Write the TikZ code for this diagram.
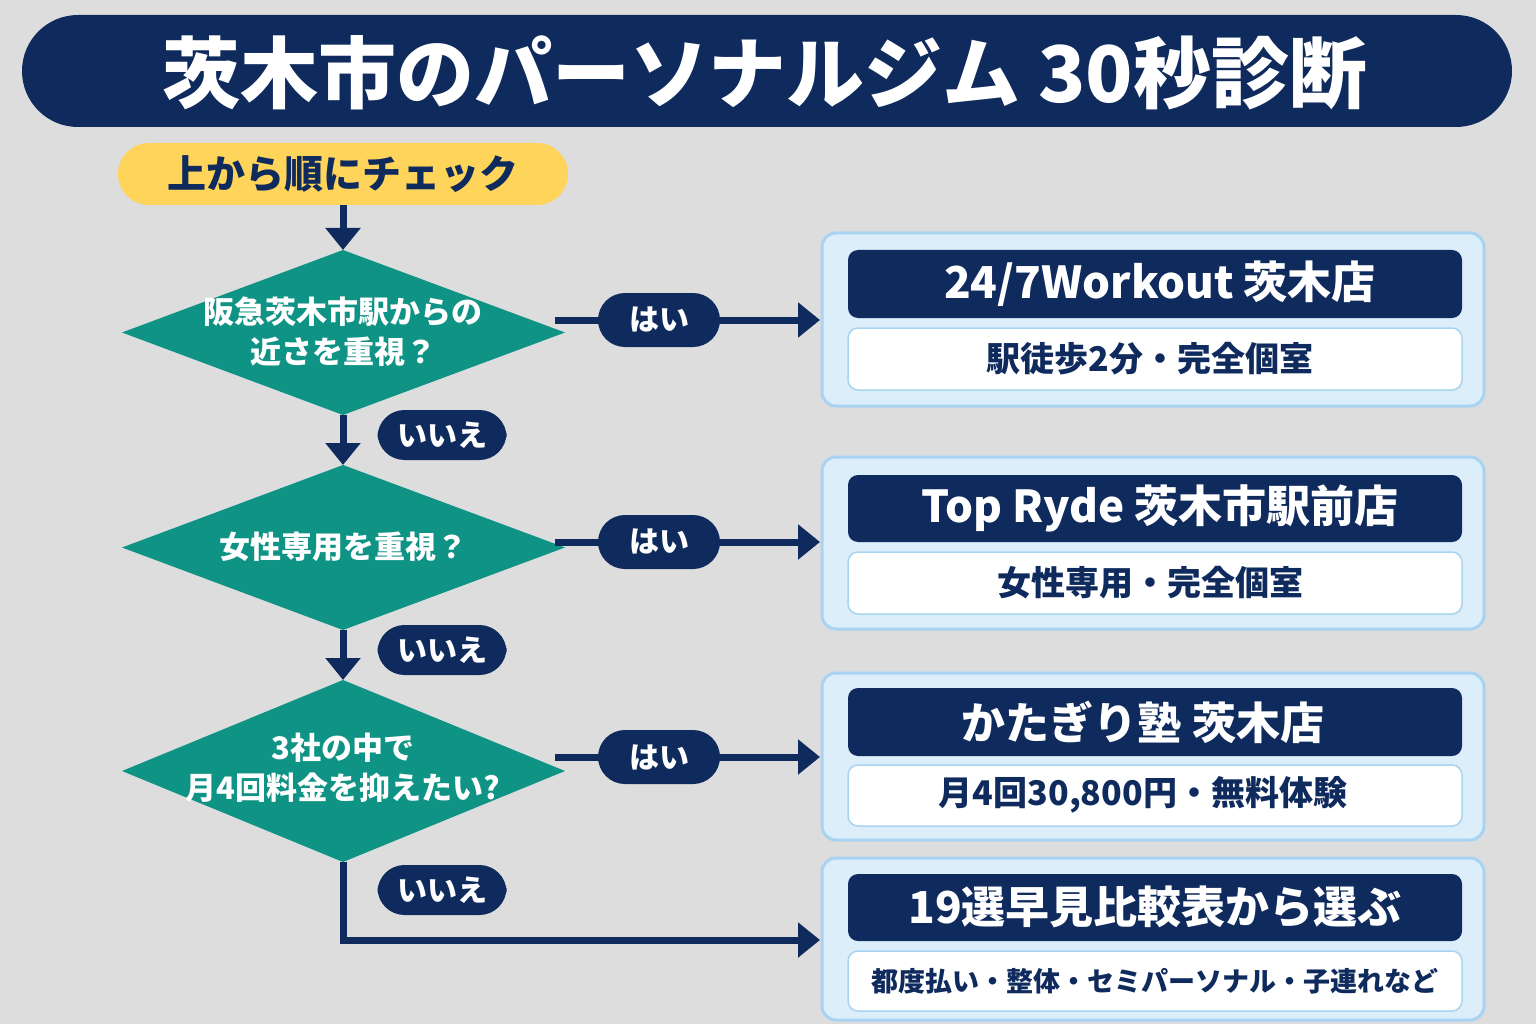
\documentclass[tikz,border=0pt]{standalone}
\usepackage{fontspec}
\setmainfont{Noto Sans CJK JP}
\usetikzlibrary{arrows.meta}
\definecolor{navy}{RGB}{15,42,92}
\definecolor{teal}{RGB}{14,147,133}
\definecolor{bg}{RGB}{221,221,222}
\definecolor{yel}{RGB}{255,212,90}
\definecolor{lb}{RGB}{221,238,251}
\definecolor{lbb}{RGB}{168,212,242}
\begin{document}
\begin{tikzpicture}[x=1pt,y=-1pt,
  arr/.style={navy,line width=7pt,-{Triangle[length=22pt,width=34pt]}},
  dt/.style={text=white,font=\bfseries\fontsize{31}{40}\selectfont,align=center},
  pill/.style={rounded corners=27pt,fill=navy,text=white,minimum height=54pt,font=\bfseries\fontsize{30}{34}\selectfont,inner sep=0pt},
  outer/.style={fill=lb,draw=lbb,line width=3pt,rounded corners=14pt},
  head/.style={fill=navy,rounded corners=10pt},
  sub/.style={fill=white,draw=lbb,line width=1.5pt,rounded corners=10pt},
  ht/.style={text=white,font=\bfseries\fontsize{44}{48}\selectfont},
  st/.style={text=navy,font=\bfseries\fontsize{34}{38}\selectfont}]
\fill[bg] (0,0) rectangle (1536,1024);
\useasboundingbox (0,0) rectangle (1536,1024);
% title
\fill[navy,rounded corners=56pt] (22,15) rectangle (1512,127);
\node[text=white,font=\bfseries\fontsize{78}{84}\selectfont] (title) at (765,73) {茨木市のパーソナルジム 30秒診断};
% start
\node[fill=yel,rounded corners=31pt,minimum width=450pt,minimum height=62pt,text=navy,font=\bfseries\fontsize{39}{42}\selectfont] (start) at (343,174) {上から順にチェック};
% diamonds
\foreach \n/\t/\b in {d1/250/415, d2/465/630, d3/680/862}{
  \fill[teal] (343,\t) -- (565,{(\t+\b)/2}) -- (343,\b) -- (122,{(\t+\b)/2}) -- cycle;
  \coordinate (\n n) at (343,\t); \coordinate (\n s) at (343,\b);
}
\node[dt] (d1) at (343,332) {阪急茨木市駅からの\\近さを重視？};
\node[dt] (d2) at (343,547) {女性専用を重視？};
\node[dt] (d3) at (343,768) {3社の中で\\月4回料金を抑えたい?};
% result boxes
\foreach \a/\b/\c/\d/\e/\f in {233/406/250/318/328/390, 457/629/475/542/552/614, 673/840/688/756/765/826, 858/1020/874/941/951/1011}{
  \draw[outer] (822,\a) rectangle (1484,\b);
  \fill[head] (848,\c) rectangle (1462,\d);
  \draw[sub] (848,\e) rectangle (1462,\f);
}
\node[ht] (h1) at (1160,284) {24/7Workout 茨木店};
\node[st] (s1) at (1150,359) {駅徒歩2分・完全個室};
\node[ht] (h2) at (1160,508) {Top Ryde 茨木市駅前店};
\node[st] (s2) at (1150,583) {女性専用・完全個室};
\node[ht] (h3) at (1143,722) {かたぎり塾 茨木店};
\node[st] (s3) at (1143,795) {月4回30,800円・無料体験};
\node[ht] (h4) at (1155,907) {19選早見比較表から選ぶ};
\node[st,font=\bfseries\fontsize{27}{32}\selectfont] (s4) at (1155,981) {都度払い・整体・セミパーソナル・子連れなど};
\coordinate (e1) at (555,320); \coordinate (t1) at (820,320);
\coordinate (e2) at (555,542); \coordinate (t2) at (820,542);
\coordinate (e3) at (555,757); \coordinate (t3) at (820,757);
\coordinate (c4) at (343,940); \coordinate (t4) at (820,940);
% connectors
\draw[arr] (start.south) -- (d1n);
\draw[arr] (d1s) -- (d2n);
\draw[arr] (d2s) -- (d3n);
\draw[arr] (e1) -- (t1);
\draw[arr] (e2) -- (t2);
\draw[arr] (e3) -- (t3);
\draw[arr] (d3s) -- (c4) -- (t4);
% labels
\foreach \y in {320,542,757}{\node[pill,minimum width=122pt] at (659,\y) {はい};}
\foreach \y in {435,650,890}{\node[pill,minimum width=129pt,minimum height=50pt] at (442,\y) {いいえ};}
\end{tikzpicture}
\end{document}
